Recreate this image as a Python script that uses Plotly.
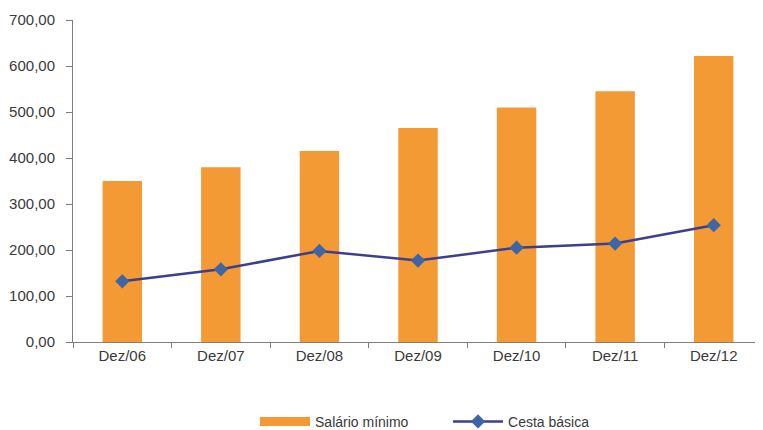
import plotly.graph_objects as go

categories = ["Dez/06", "Dez/07", "Dez/08", "Dez/09", "Dez/10", "Dez/11", "Dez/12"]
salario_minimo = [350, 380, 415, 465, 510, 545, 622]
cesta_basica = [132, 158, 198, 177, 205, 214, 254]
y_ticks = [0, 100, 200, 300, 400, 500, 600, 700]
y_tick_labels = ["0,00", "100,00", "200,00", "300,00", "400,00", "500,00", "600,00", "700,00"]

font_family = "Liberation Sans, Arial, sans-serif"
bar_color = "#F49A34"
text_color = "#3a3a3a"

fig = go.Figure()
fig.add_trace(go.Bar(
    x=categories, y=salario_minimo, name="Salário mínimo",
    marker=dict(color=bar_color, line=dict(width=0)),
    showlegend=False,
))
# legend proxy for the bars (wide orange swatch as in the reference)
fig.add_trace(go.Scatter(
    x=[None], y=[None], name="Salário mínimo", mode="lines",
    line=dict(color=bar_color, width=9),
))
fig.add_trace(go.Scatter(
    x=categories, y=cesta_basica, name="Cesta básica", mode="lines+markers",
    line=dict(color="#3C3F8E", width=2.5),
    marker=dict(symbol="diamond", size=11, color="#3E66A6"),
))

fig.update_layout(
    width=755, height=422,
    margin=dict(l=65, r=0, t=12, b=88, autoexpand=False),
    paper_bgcolor="white", plot_bgcolor="white",
    bargap=0.6,
    font=dict(family=font_family, size=15, color=text_color),
    showlegend=True,
    legend=dict(orientation="h", x=0.2638, xanchor="left", y=-0.248, yanchor="middle",
                font=dict(size=14, color=text_color), itemwidth=50,
                entrywidth=128, entrywidthmode="pixels",
                traceorder="normal"),
    xaxis=dict(
        showgrid=False, showline=True, linecolor="#7f7f7f", linewidth=1,
        ticks="outside", ticklen=5, tickcolor="#7f7f7f", tickson="boundaries",
        tickfont=dict(size=15, color=text_color),
    ),
    yaxis=dict(
        range=[0, 700], tickvals=y_ticks, ticktext=y_tick_labels,
        showgrid=False, showline=True, linecolor="#7f7f7f", linewidth=1,
        ticks="outside", ticklen=6, tickcolor="#7f7f7f", zeroline=False,
        ticklabelstandoff=8,
        tickfont=dict(size=15, color=text_color),
    ),
)

fig.write_html("out.html")
